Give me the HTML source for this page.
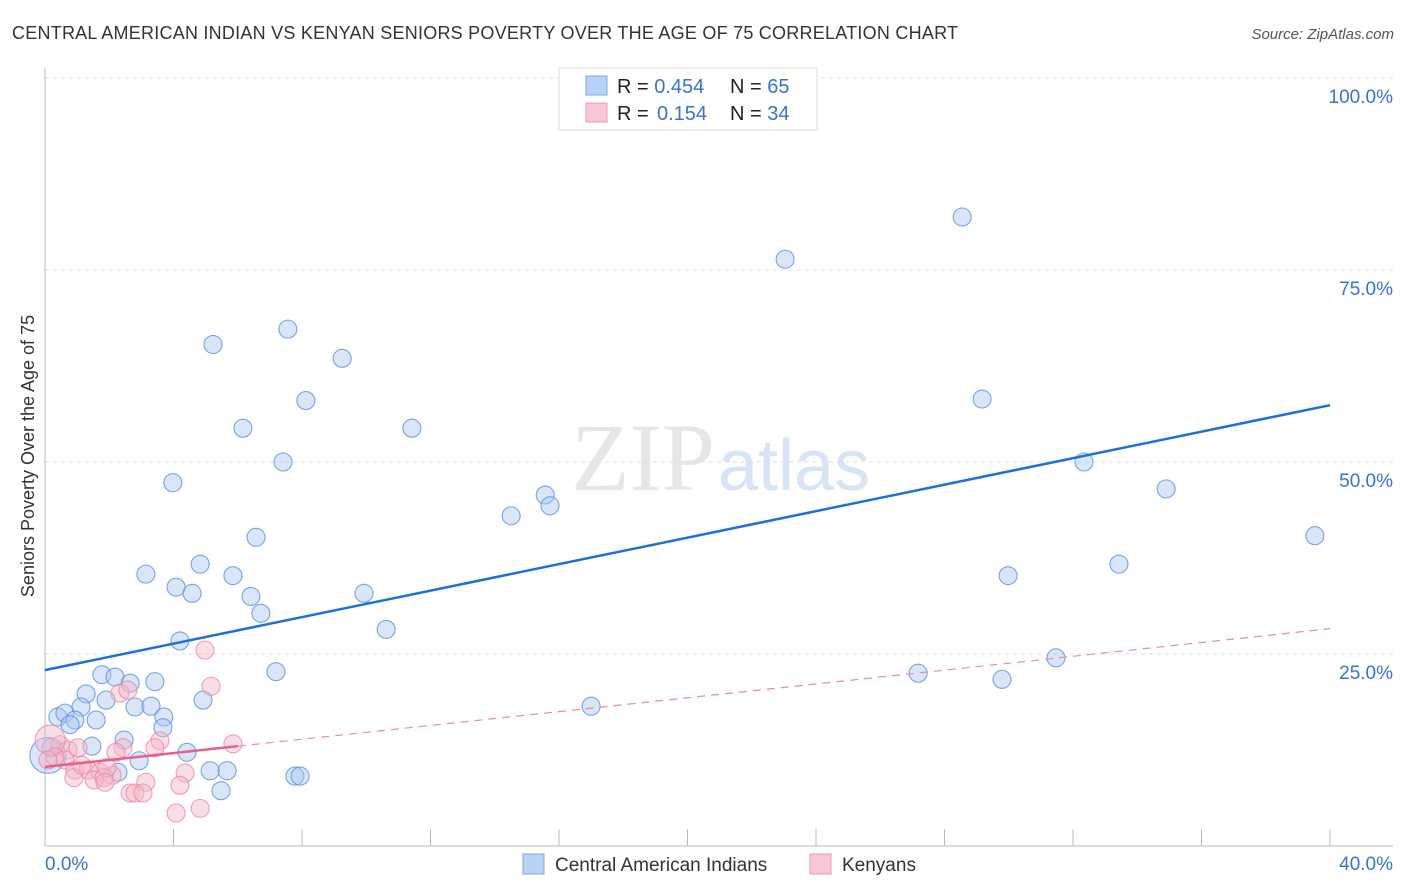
<!DOCTYPE html>
<html><head><meta charset="utf-8"><style>
body{margin:0;background:#fff;font-family:"Liberation Sans",sans-serif;}
svg{display:block}
</style></head><body>
<svg id="chart" width="1406" height="892" xmlns="http://www.w3.org/2000/svg">
<text x="12" y="39" font-size="18" fill="#333" textLength="946">CENTRAL AMERICAN INDIAN VS KENYAN SENIORS POVERTY OVER THE AGE OF 75 CORRELATION CHART</text>
<text x="1394" y="39" font-size="15" fill="#555" font-style="italic" text-anchor="end">Source: ZipAtlas.com</text>
<text x="715" y="490" font-size="96" fill="#e6e6e6" text-anchor="end" font-family="Liberation Serif,serif">ZIP</text>
<text x="718" y="490" font-size="72" fill="#d6e4f5">atlas</text>
<text x="34" y="456" font-size="18" fill="#333" text-anchor="middle" transform="rotate(-90 34 456)">Seniors Poverty Over the Age of 75</text>
<g id="grid"></g><g id="marks"></g>
<g>
<rect x="559" y="68" width="258" height="62" fill="#fff" stroke="#ddd"/>
<rect x="586" y="76" width="21" height="19" fill="#b7d2f5" stroke="#7aa7e6"/>
<rect x="586" y="103" width="21" height="19" fill="#f8c6d5" stroke="#ee9ab4"/>
<text x="617" y="93" font-size="20" fill="#222">R = <tspan fill="#3a72d4">0.454</tspan><tspan x="730">N = </tspan><tspan fill="#3a72d4">65</tspan></text>
<text x="617" y="120" font-size="20" fill="#222">R = <tspan x="657" fill="#3a72d4">0.154</tspan><tspan x="730">N = </tspan><tspan fill="#3a72d4">34</tspan></text>
</g>
<g>
<rect x="523" y="854" width="21" height="20" fill="#b7d2f5" stroke="#7aa7e6"/>
<text x="555" y="871" font-size="19" fill="#333">Central American Indians</text>
<rect x="810" y="854" width="21" height="20" fill="#f8c6d5" stroke="#ee9ab4"/>
<text x="842" y="871" font-size="19" fill="#333">Kenyans</text>
</g>
<text x="45" y="870" font-size="19" fill="#3a72d4">0.0%</text>
<text x="1393" y="870" font-size="19" fill="#3a72d4" text-anchor="end">40.0%</text>
</svg>
<script>
const yTicks=[100,75,50,25];
const yTickLabels=["100.0%","75.0%","50.0%","25.0%"];
const blueX=[18.99,28.55,23.04,7.56,5.23,9.25,8.12,29.17,6.16,11.42,7.41,32.34,3.98,34.90,15.57,15.72,14.51,6.57,39.53,4.83,33.43,3.14,5.85,29.98,4.08,4.58,6.41,9.93,6.72,10.62,4.20,31.47,7.19,27.18,29.79,1.77,2.18,2.65,3.42,1.28,1.90,4.92,1.12,2.80,3.30,17.00,0.40,0.62,0.93,1.59,3.70,0.78,3.67,2.46,1.46,4.42,0.19,2.93,2.27,5.14,5.67,5.48,7.78,7.94,0.09];
const blueY=[99.9,81.9,76.4,67.3,65.3,63.5,58.0,58.2,54.4,54.4,50.0,50.0,47.3,46.5,45.7,44.3,43.0,40.2,40.4,36.7,36.7,35.4,35.2,35.2,33.7,32.9,32.5,32.9,30.3,28.2,26.7,24.5,22.7,22.5,21.7,22.3,22.0,21.2,21.4,19.8,19.0,19.0,18.1,18.1,18.2,18.2,16.8,17.3,16.4,16.4,16.8,15.8,15.4,13.8,13.0,12.2,12.8,11.1,9.6,9.8,9.8,7.2,9.1,9.1,11.8];
const pinkX=[4.98,5.17,2.33,2.58,5.85,3.58,3.42,2.43,2.21,0.47,0.72,0.16,1.03,0.62,0.31,0.93,1.34,1.71,2.09,1.53,1.84,4.36,3.14,4.20,2.65,2.80,3.05,4.08,4.83,0.90,1.15,1.93,1.87,0.09];
const pinkY=[25.5,20.8,19.9,20.3,13.3,13.7,12.8,12.8,12.2,13.2,12.5,13.8,12.8,11.2,11.6,9.9,9.9,9.6,9.2,8.6,8.9,9.5,8.3,7.9,6.9,6.9,6.9,4.3,4.9,8.9,10.5,10.2,8.3,11.2];
const blueTrend=[22.9,57.4];
const pinkTrend=[10.3,28.3];
const xT=v=>45+v/40*1285, yT=v=>846-v/25*192;
const NS="http://www.w3.org/2000/svg";
function mk(tag,attrs,parent){const e=document.createElementNS(NS,tag);for(const k in attrs)e.setAttribute(k,attrs[k]);parent.appendChild(e);return e;}
const grid=document.getElementById('grid'), marks=document.getElementById('marks');
yTicks.forEach((t,i)=>{
 const l=mk('line',{x1:45,x2:1393,y1:yT(t),y2:yT(t),stroke:'#ddd','stroke-dasharray':'4,4'},grid);
 
 
 const tx=mk('text',{x:1393,y:yT(t)+25,'font-size':19,fill:'#3a72d4','text-anchor':'end'},grid);
 tx.textContent=yTickLabels[i];
 
 
});
const ax=mk('line',{x1:45,x2:45,y1:68,y2:846,stroke:'#bbb'},grid);


const bx=mk('line',{x1:45,x2:1393,y1:846,y2:846,stroke:'#bbb'},grid);


for(let i=1;i<=10;i++){const t=mk('line',{x1:xT(i*4),x2:xT(i*4),y1:829,y2:846,stroke:'#bbb'},grid);
 
 }
function dots(X,Y,fill,stroke,name,bigIdx,bigR){X.forEach((x,i)=>{
 const c=mk('circle',{cx:xT(x),cy:yT(Y[i]),r:i===bigIdx?bigR:9,fill:fill,'fill-opacity':0.45,stroke:stroke,'stroke-opacity':0.8,'stroke-width':1.1},marks);
 
 });}
dots(blueX,blueY,'#a8c8f0','#5b8fe0','central-american-indian-point',64,18);
dots(pinkX,pinkY,'#f5b5c8','#e88aa8','kenyan-point',11,15);
const bl=mk('line',{x1:xT(0),y1:yT(blueTrend[0]),x2:xT(40),y2:yT(blueTrend[1]),stroke:'#1f6fd6','stroke-width':2.5},marks);


const pv=x=>pinkTrend[0]+(pinkTrend[1]-pinkTrend[0])*x/40;
const pd=mk('line',{x1:xT(6),y1:yT(pv(6)),x2:xT(40),y2:yT(pv(40)),stroke:'#e88aa8','stroke-width':1.2,'stroke-dasharray':'8,6'},marks);


const ps=mk('line',{x1:xT(0),y1:yT(pv(0)),x2:xT(6),y2:yT(pv(6)),stroke:'#e8608a','stroke-width':2.5},marks);


</script>
</body></html>
